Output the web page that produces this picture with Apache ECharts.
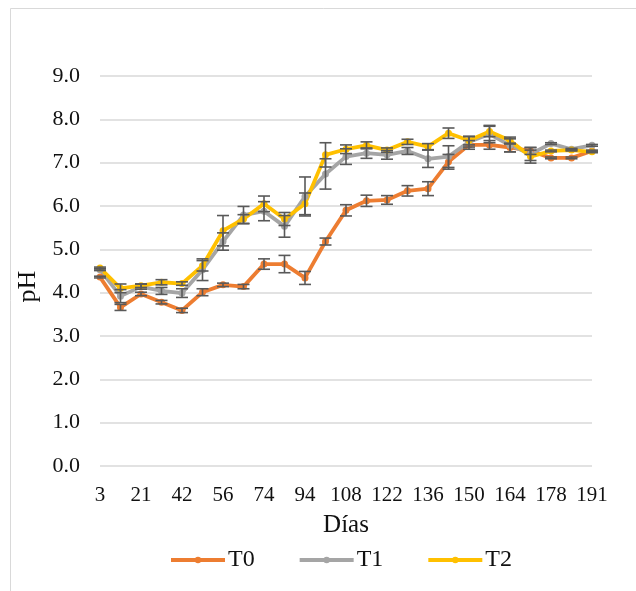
<!DOCTYPE html>
<html>
<head>
<meta charset="utf-8">
<script src="https://cdn.jsdelivr.net/npm/echarts@6/dist/echarts.min.js"></script>
<style>html,body{margin:0;padding:0;background:#fff;}#c{width:636px;height:591px;}</style>
</head>
<body>
<div id="c"></div>
<script>
const days = ['3','14','21','35','42','49','56','63','74','80','94','101','108','115','122','129','136','143','150','157','164','171','178','185','191'];
const yTicks = [0,1,2,3,4,5,6,7,8,9];
const T0 = [4.36,3.66,3.97,3.78,3.59,4.01,4.18,4.14,4.66,4.66,4.34,5.18,5.90,6.12,6.14,6.35,6.40,7.02,7.41,7.41,7.35,7.27,7.11,7.11,7.27];
const T1 = [4.53,3.92,4.14,4.04,3.99,4.53,5.18,5.79,5.88,5.53,6.22,6.74,7.14,7.22,7.18,7.27,7.09,7.14,7.48,7.66,7.40,7.20,7.44,7.31,7.40];
const T2 = [4.57,4.10,4.16,4.24,4.21,4.62,5.43,5.70,6.05,5.70,6.05,7.18,7.31,7.40,7.29,7.48,7.37,7.68,7.51,7.72,7.51,7.14,7.27,7.29,7.25];
const T0err = [0.02,0.07,0.04,0.04,0.05,0.08,0.04,0.05,0.12,0.2,0.15,0.08,0.13,0.13,0.1,0.12,0.16,0.17,0.1,0.1,0.1,0.08,0.02,0.02,0.02];
const T1err = [0.02,0.15,0.06,0.08,0.1,0.25,0.2,0.2,0.22,0.25,0.45,0.35,0.18,0.12,0.1,0.08,0.2,0.25,0.12,0.2,0.15,0.15,0.02,0.02,0.02];
const T2err = [0.02,0.1,0.04,0.06,0.04,0.12,0.35,0.1,0.18,0.15,0.25,0.28,0.1,0.08,0.05,0.06,0.07,0.12,0.1,0.12,0.08,0.15,0.02,0.02,0.02];

const FONT = 'Liberation Serif';
const chart = echarts.init(document.getElementById('c'), null, {renderer:'canvas'});

function errData(vals, errs){ return vals.map((v,i)=>[i, v, errs[i]]); }
function errSeries(name, vals, errs){
  return {
    type:'custom', name:name, z:5, silent:true,
    data: errData(vals, errs),
    encode:{x:0, y:1},
    renderItem:function(params, api){
      const i = api.value(0), v = api.value(1), e = api.value(2);
      const hi = api.coord([i, v+e]), lo = api.coord([i, v-e]);
      const w = 6;
      const st = {stroke:'#595959', lineWidth:1.6};
      return {type:'group', children:[
        {type:'line', shape:{x1:hi[0],y1:hi[1],x2:lo[0],y2:lo[1]}, style:st},
        {type:'line', shape:{x1:hi[0]-w,y1:hi[1],x2:hi[0]+w,y2:hi[1]}, style:st},
        {type:'line', shape:{x1:lo[0]-w,y1:lo[1],x2:lo[0]+w,y2:lo[1]}, style:st}
      ]};
    }
  };
}
function lineSeries(name, vals, color){
  return {
    type:'line', name:name, data:vals, z:3,
    symbol:'circle', symbolSize:7,
    lineStyle:{color:color, width:3.8},
    itemStyle:{color:color},
    emphasis:{disabled:true}
  };
}

chart.setOption({
  animation:false,
  backgroundColor:'#fff',
  textStyle:{fontFamily:FONT},
  graphic:[{type:'rect', shape:{x:10.5,y:8.5,width:700,height:700}, style:{fill:'none', stroke:'#d9d9d9', lineWidth:1}, silent:true}],
  grid:{left:100, right:44, top:76, bottom:125, containLabel:false},
  legend:{
    data:['T0','T1','T2'],
    left:164, top:543,
    itemWidth:54, itemHeight:8, itemGap:43,
    lineStyle:{width:4},
    textStyle:{fontFamily:FONT, fontSize:24, color:'#111', padding:[0,0,0,-2]}
  },
  xAxis:{
    type:'category', data:days, boundaryGap:false,
    axisLine:{show:false}, axisTick:{show:false},
    axisLabel:{interval:1, fontFamily:FONT, fontSize:21, color:'#111', margin:19},
    name:'Días', nameLocation:'middle', nameGap:47,
    nameTextStyle:{fontFamily:FONT, fontSize:25, color:'#111'}
  },
  yAxis:{
    type:'value', min:yTicks[0], max:yTicks[yTicks.length-1], interval:1,
    axisLine:{show:false}, axisTick:{show:false},
    splitLine:{lineStyle:{color:'#d9d9d9', width:1.5}},
    axisLabel:{fontFamily:FONT, fontSize:22, color:'#111', margin:20, formatter:v=>v.toFixed(1)},
    name:'pH', nameLocation:'middle', nameGap:58, nameRotate:90,
    nameTextStyle:{fontFamily:FONT, fontSize:26, color:'#111', padding:[0,0,0,-31]}
  },
  series:[
    lineSeries('T0', T0, '#ED7D31'),
    lineSeries('T1', T1, '#A5A5A5'),
    lineSeries('T2', T2, '#FFC000'),
    errSeries('eT0', T0, T0err),
    errSeries('eT1', T1, T1err),
    errSeries('eT2', T2, T2err)
  ]
});
</script>
</body>
</html>
